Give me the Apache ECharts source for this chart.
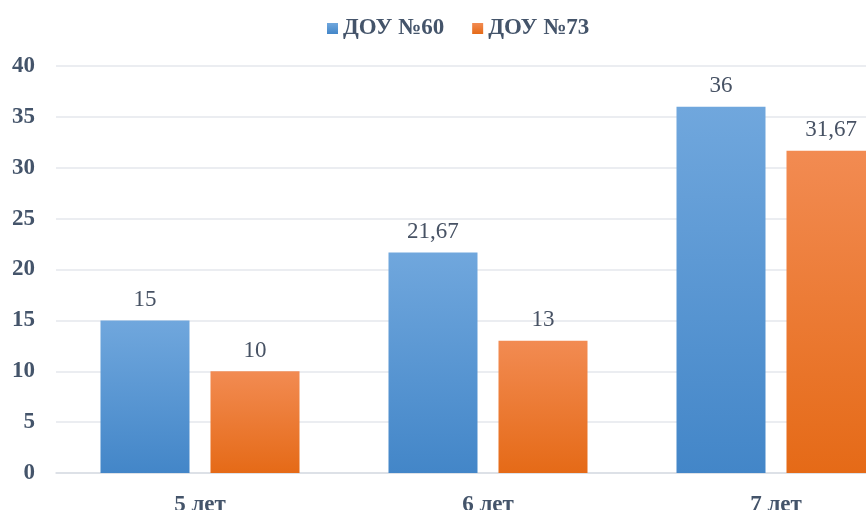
<!DOCTYPE html>
<html>
<head>
<meta charset="utf-8">
<script src="https://cdn.jsdelivr.net/npm/echarts@6/dist/echarts.min.js"></script>
<style>
  html, body { margin: 0; padding: 0; background: #ffffff; }
  #chart { width: 866px; height: 510px; }
</style>
</head>
<body>
<div id="chart"></div>
<script>
// Age groups and results for the two kindergartens
const categories = ['5 лет', '6 лет', '7 лет'];
const seriesNames = ['ДОУ №60', 'ДОУ №73'];
const dou60 = [15, 21.67, 36];
const dou73 = [10, 13, 31.67];
const yTicks = { min: 0, max: 40, interval: 5 };

const textColor = '#44546a';
const serif = '"Liberation Serif", "Times New Roman", serif';

function grad(top, bottom) {
  return new echarts.graphic.LinearGradient(0, 0, 0, 1, [
    { offset: 0, color: top },
    { offset: 1, color: bottom }
  ]);
}

const labelStyle = {
  show: true,
  position: 'top',
  distance: 9,
  fontFamily: serif,
  fontSize: 23,
  color: '#475264',
  formatter: p => String(p.value).replace('.', ',')
};

const chart = echarts.init(document.getElementById('chart'), null, { renderer: 'canvas' });
chart.setOption({
  animation: false,
  legend: {
    top: 12,
    left: 322,
    itemWidth: 11,
    itemHeight: 11,
    itemGap: 28,
    icon: 'rect',
    textStyle: { fontFamily: serif, fontSize: 23, fontWeight: 'bold', color: textColor },
    data: seriesNames
  },
  // the plot area runs past the right edge of the page, so the last bar is cut
  grid: { left: 56, top: 66, width: 864, height: 407, containLabel: false, outerBoundsMode: 'none' },
  xAxis: {
    type: 'category',
    data: categories,
    axisLine: { show: true, lineStyle: { color: '#d9dde3', width: 1.5 } },
    axisTick: { show: false },
    axisLabel: { margin: 21, fontFamily: serif, fontSize: 23, fontWeight: 'bold', color: textColor }
  },
  yAxis: {
    type: 'value',
    min: yTicks.min,
    max: yTicks.max,
    interval: yTicks.interval,
    axisLine: { show: false },
    axisTick: { show: false },
    splitLine: { lineStyle: { color: '#e4e7ec', width: 1.5 } },
    axisLabel: { margin: 21, fontFamily: serif, fontSize: 23, fontWeight: 'bold', color: textColor }
  },
  series: [
    {
      name: seriesNames[0],
      type: 'bar',
      data: dou60,
      barWidth: 89,
      barGap: '23.6%',
      itemStyle: { color: grad('#70a7dd', '#4386c8') },
      label: labelStyle
    },
    {
      name: seriesNames[1],
      type: 'bar',
      data: dou73,
      barWidth: 89,
      barGap: '23.6%',
      itemStyle: { color: grad('#f28b52', '#e56a17') },
      label: labelStyle
    }
  ]
});
</script>
</body>
</html>
